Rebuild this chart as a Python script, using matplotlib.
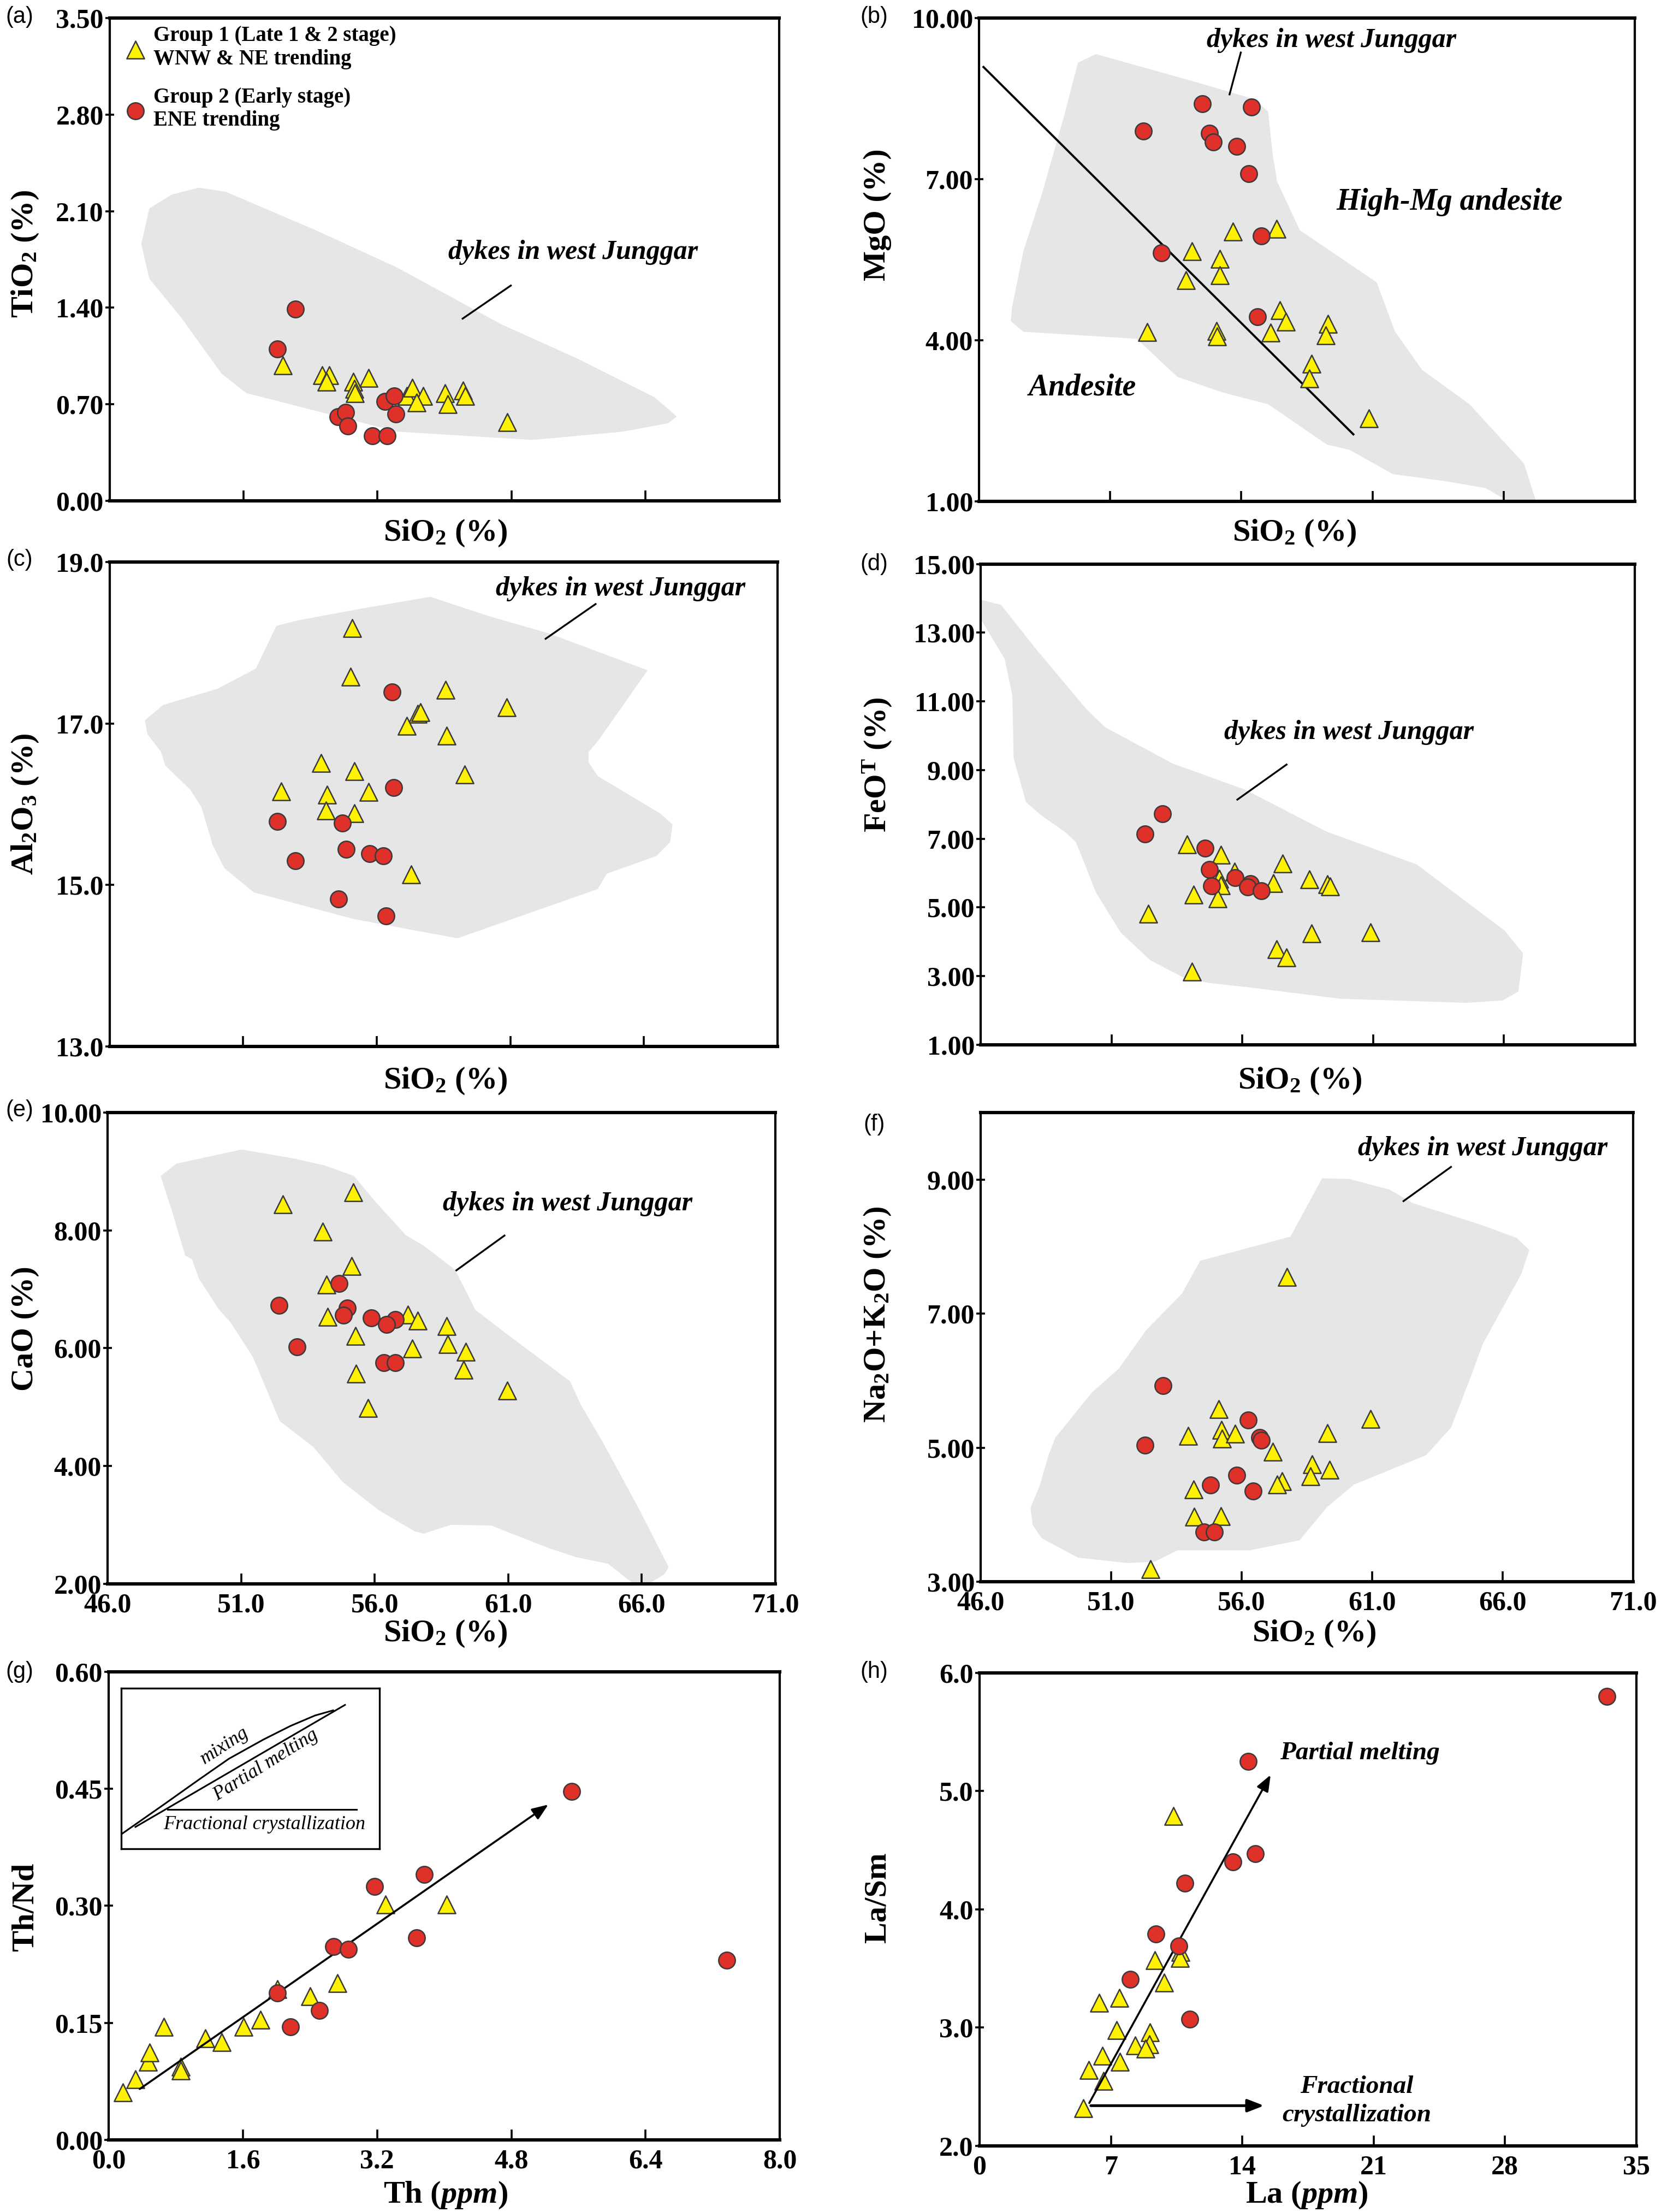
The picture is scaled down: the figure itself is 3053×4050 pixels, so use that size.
import matplotlib
matplotlib.use('Agg')
import matplotlib.pyplot as plt
from matplotlib.patches import Polygon

# === Fonts ===
plt.rcParams['font.family'] = 'Liberation Serif'
plt.rcParams['font.weight'] = 'bold'
plt.rcParams['mathtext.fontset'] = 'custom'
plt.rcParams['mathtext.rm'] = 'Liberation Serif:bold'
plt.rcParams['mathtext.it'] = 'Liberation Serif:bold:italic'
plt.rcParams['mathtext.bf'] = 'Liberation Serif:bold'

# === Data ===
# (a) TiO2 vs SiO2
a_g1_sio2 = [52.46, 53.93, 54.20, 54.10, 55.09, 55.13, 55.16, 55.66, 57.09, 57.29, 57.70, 57.46, 58.53, 58.63, 59.20, 59.27, 60.85]
a_g1_tio2 = [0.98, 0.91, 0.91, 0.86, 0.86, 0.81, 0.78, 0.89, 0.76, 0.82, 0.76, 0.71, 0.78, 0.70, 0.80, 0.76, 0.57]
a_g2_sio2 = [52.94, 52.26, 54.52, 54.82, 54.89, 55.80, 56.37, 56.27, 56.62, 56.69]
a_g2_tio2 = [1.39, 1.10, 0.61, 0.64, 0.54, 0.47, 0.47, 0.72, 0.76, 0.63]
a_field = [(49.33, 2.27), (48.32, 2.22), (47.48, 2.12), (47.18, 1.86), (47.48, 1.61), (48.66, 1.33),
           (50.18, 0.92), (51.10, 0.78), (56.74, 0.50), (61.79, 0.44), (65.16, 0.50), (66.84, 0.56),
           (67.18, 0.61), (66.34, 0.75), (63.47, 1.03), (60.61, 1.28), (56.74, 1.69), (53.71, 1.96),
           (50.34, 2.24)]

# (b) MgO vs SiO2
b_g1_sio2 = [55.67, 57.35, 54.12, 55.17, 55.17, 53.89, 57.47, 57.69, 59.30, 52.42, 55.05, 55.08, 57.12, 59.21, 58.68, 58.59, 60.87]
b_g1_mgo = [6.03, 6.08, 5.66, 5.52, 5.21, 5.12, 4.56, 4.35, 4.31, 4.15, 4.17, 4.07, 4.14, 4.09, 3.56, 3.29, 2.55]
b_g2_sio2 = [54.51, 56.38, 52.27, 54.79, 54.93, 55.83, 56.29, 56.76, 52.96, 56.62]
b_g2_mgo = [8.41, 8.34, 7.90, 7.86, 7.69, 7.61, 7.10, 5.94, 5.63, 4.44]
b_field = [(50.46, 9.33), (49.77, 9.17), (49.25, 8.19), (48.38, 6.70), (47.69, 5.66), (47.26, 4.62),
           (47.21, 4.36), (47.69, 4.16), (52.01, 4.03), (53.56, 3.32), (55.29, 3.03), (57.02, 2.81),
           (59.26, 2.06), (60.13, 1.96), (61.77, 1.51), (63.75, 1.38), (65.31, 1.25), (66.52, 0.90),
           (67.30, 0.90), (66.78, 1.70), (64.70, 2.81), (62.89, 3.45), (61.85, 4.17), (61.16, 5.08),
           (58.23, 6.05), (57.36, 6.96), (57.19, 7.48), (57.02, 8.26), (56.50, 8.49), (54.26, 8.81)]
b_divide_sio2 = [46.17, 60.27]
b_divide_mgo = [9.09, 2.25]

# (c) Al2O3 vs SiO2
c_g1_sio2 = [55.08, 55.02, 58.58, 60.86, 57.53, 57.64, 57.12, 58.61, 53.92, 55.15, 59.29, 52.42, 54.14, 55.69, 54.10, 55.17, 57.29]
c_g1_al2o3 = [18.18, 17.58, 17.42, 17.20, 17.12, 17.14, 16.97, 16.85, 16.51, 16.41, 16.37, 16.16, 16.12, 16.15, 15.92, 15.89, 15.13]
c_g2_sio2 = [56.58, 56.64, 52.27, 54.71, 54.86, 52.95, 55.73, 56.24, 54.56, 56.34]
c_g2_al2o3 = [17.39, 16.21, 15.79, 15.77, 15.44, 15.30, 15.39, 15.36, 14.83, 14.62]
c_field = [(52.24, 18.21), (51.47, 17.68), (50.03, 17.43), (48.00, 17.23), (47.32, 17.04), (47.41, 16.87),
           (47.92, 16.65), (48.08, 16.48), (49.02, 16.18), (49.44, 15.96), (49.86, 15.49), (50.29, 15.21),
           (51.39, 14.91), (55.12, 14.58), (59.02, 14.34), (64.27, 14.95), (64.61, 15.14), (66.47, 15.36),
           (66.98, 15.53), (67.07, 15.75), (66.64, 15.88), (64.27, 16.35), (63.93, 16.52), (63.93, 16.65),
           (64.27, 16.78), (66.14, 17.66), (62.41, 18.12), (60.20, 18.33), (58.00, 18.57), (55.37, 18.42),
           (53.08, 18.28)]

# (d) FeOT vs SiO2
d_g1_sio2 = [53.89, 55.19, 57.54, 55.71, 55.12, 55.17, 57.19, 58.57, 59.25, 59.35, 54.13, 55.05, 52.41, 58.64, 60.89, 57.31, 57.69, 54.08]
d_g1_feo = [6.83, 6.53, 6.28, 6.04, 5.84, 5.64, 5.71, 5.82, 5.67, 5.61, 5.37, 5.26, 4.81, 4.24, 4.27, 3.78, 3.54, 3.13]
d_g2_sio2 = [52.94, 52.27, 54.57, 54.74, 54.83, 55.72, 56.31, 56.21, 56.73]
d_g2_feo = [7.72, 7.14, 6.73, 6.10, 5.62, 5.86, 5.69, 5.59, 5.49]
d_field = [(46.00, 13.96), (46.78, 13.81), (48.16, 12.48), (50.06, 10.76), (50.75, 10.25), (53.34, 9.19),
           (56.10, 8.43), (59.21, 7.21), (62.67, 6.25), (66.03, 4.32), (66.73, 3.66), (66.55, 2.55),
           (65.95, 2.29), (64.57, 2.22), (59.73, 2.34), (56.28, 2.67), (54.72, 2.80), (53.77, 2.95),
           (52.48, 3.46), (51.35, 4.27), (50.40, 5.44), (49.80, 6.60), (49.63, 6.91), (49.20, 7.21),
           (48.33, 7.67), (47.73, 8.07), (47.26, 9.34), (47.21, 11.17), (46.92, 12.23), (46.00, 13.40)]

# (e) CaO vs SiO2
e_g1_sio2 = [55.21, 52.57, 54.05, 55.14, 54.20, 57.25, 57.62, 54.23, 58.69, 55.29, 58.74, 57.40, 59.42, 59.32, 55.31, 60.97, 55.76]
e_g1_cao = [8.64, 8.44, 7.98, 7.39, 7.08, 6.57, 6.47, 6.53, 6.37, 6.21, 6.07, 5.99, 5.94, 5.63, 5.57, 5.28, 4.98]
e_g2_sio2 = [54.67, 52.43, 54.97, 54.84, 55.87, 56.77, 56.45, 53.09, 56.34, 56.77]
e_g2_cao = [7.10, 6.73, 6.68, 6.56, 6.51, 6.48, 6.40, 6.02, 5.75, 5.75]
e_field = [(47.99, 8.92), (48.58, 9.13), (51.02, 9.37), (52.95, 9.22), (54.13, 9.10), (55.23, 8.92),
           (55.98, 8.51), (57.16, 7.92), (57.83, 7.74), (59.01, 7.33), (59.77, 6.65), (61.03, 6.21),
           (63.31, 5.44), (63.73, 5.03), (64.57, 4.38), (65.92, 3.25), (67.01, 2.28), (66.84, 2.16),
           (66.08, 1.95), (65.83, 1.95), (64.74, 2.34), (63.56, 2.45), (62.55, 2.60), (61.20, 2.84),
           (60.36, 2.99), (58.85, 3.00), (57.84, 2.85), (57.50, 2.89), (56.15, 3.25), (54.80, 3.73),
           (53.71, 4.32), (52.45, 4.76), (51.44, 5.85), (50.60, 6.44), (50.18, 6.65), (49.42, 7.18),
           (49.16, 7.51), (48.91, 7.57), (48.41, 8.33)]

# (f) Na2O+K2O vs SiO2
f_g1_sio2 = [57.73, 55.13, 60.94, 53.94, 55.22, 55.24, 55.74, 59.29, 57.20, 58.70, 59.36, 58.63, 57.54, 57.35, 54.15, 54.18, 55.20, 52.50]
f_g1_alk = [7.55, 5.58, 5.43, 5.18, 5.27, 5.14, 5.21, 5.22, 4.94, 4.75, 4.67, 4.57, 4.50, 4.45, 4.38, 3.97, 3.98, 3.19]
f_g2_sio2 = [52.98, 52.29, 56.26, 56.68, 56.76, 55.81, 54.80, 56.43, 54.56, 54.96]
f_g2_alk = [5.93, 5.04, 5.41, 5.15, 5.11, 4.59, 4.44, 4.35, 3.74, 3.74]
f_field = [(59.08, 9.02), (60.12, 9.01), (61.68, 8.85), (62.55, 8.65), (63.85, 8.49), (65.15, 8.33),
           (66.54, 8.13), (67.02, 7.95), (66.71, 7.59), (65.24, 6.55), (64.80, 6.08), (64.02, 5.30),
           (63.07, 4.89), (60.30, 4.45), (59.26, 4.11), (58.22, 3.62), (56.31, 3.47), (53.54, 3.47),
           (52.67, 3.30), (51.63, 3.28), (49.73, 3.36), (48.34, 3.65), (47.99, 3.85), (47.91, 4.11),
           (48.25, 4.42), (48.60, 4.89), (48.86, 5.15), (50.25, 5.82), (51.29, 6.18), (52.33, 6.75),
           (53.71, 7.30), (54.41, 7.79), (57.87, 8.15), (58.05, 8.28)]

# (g) Th/Nd vs Th
g_g1_th = [0.17, 0.32, 0.47, 0.49, 0.66, 0.86, 0.86, 1.15, 1.35, 1.61, 1.81, 2.01, 2.40, 2.73, 3.30, 4.03]
g_g1_thnd = [0.061, 0.078, 0.100, 0.112, 0.145, 0.094, 0.089, 0.130, 0.125, 0.145, 0.154, 0.193, 0.184, 0.201, 0.302, 0.302]
g_g2_th = [5.52, 7.37, 3.17, 3.76, 3.67, 2.68, 2.86, 2.01, 2.17, 2.51]
g_g2_thnd = [0.447, 0.230, 0.325, 0.340, 0.259, 0.248, 0.244, 0.188, 0.145, 0.166]

# (h) La/Sm vs La
h_g1_la = [10.34, 10.72, 10.67, 9.33, 9.83, 6.38, 7.44, 7.30, 9.09, 8.30, 9.06, 8.86, 6.55, 7.47, 5.83, 6.61, 5.52]
h_g1_lasm = [4.79, 3.64, 3.59, 3.57, 3.38, 3.21, 3.25, 2.98, 2.96, 2.85, 2.86, 2.82, 2.76, 2.71, 2.64, 2.55, 2.32]
h_g2_la = [33.43, 14.32, 14.69, 13.49, 10.94, 9.41, 10.61, 8.02, 11.20]
h_g2_lasm = [5.80, 5.25, 4.47, 4.40, 4.22, 3.79, 3.69, 3.41, 3.07]

# === Styles ===
FIELD = '#e6e6e6'
YEL = '#fff200'
RED = '#e0302a'
EDGE = '#3a3a3a'
TICK_FS = 18
LABEL_FS = 21
NOTE_FS = 18


def style_axes(ax, xlim, ylim, xticks, yticks, yfmt, xfmt=None):
    ax.set_xlim(*xlim)
    ax.set_ylim(*ylim)
    ax.set_xticks(xticks)
    ax.set_yticks(yticks)
    ax.set_yticklabels([yfmt.format(v) for v in yticks], fontsize=TICK_FS, fontweight='bold')
    if xfmt is None:
        ax.set_xticklabels([])
    else:
        ax.set_xticklabels([xfmt.format(v) for v in xticks], fontsize=TICK_FS, fontweight='bold')
    ax.tick_params(axis='x', direction='in', length=7, width=1.3, pad=6)
    ax.tick_params(axis='y', direction='inout', length=6, width=1.3, pad=1)
    for side in ['left', 'right']:
        ax.spines[side].set_linewidth(1.5)
    for side in ['top', 'bottom']:
        ax.spines[side].set_linewidth(2.2)


def plot_groups(ax, g1x, g1y, g2x, g2y):
    tri = ax.scatter(g1x, g1y, marker='^', s=135, c=YEL, edgecolors=EDGE, linewidths=0.9, zorder=3)
    cir = ax.scatter(g2x, g2y, marker='o', s=120, c=RED, edgecolors=EDGE, linewidths=0.9, zorder=4)
    return tri, cir


def add_field(ax, field):
    ax.add_patch(Polygon(field, closed=True, fc=FIELD, ec='none', zorder=0))


def dyke_note(ax, xy, p0, p1):
    ax.text(xy[0], xy[1], 'dykes in west Junggar', ha='center', va='center',
            fontsize=NOTE_FS, style='italic', fontweight='bold')
    ax.plot([p0[0], p1[0]], [p0[1], p1[1]], color='k', lw=1.2, zorder=2)


fig = plt.figure(figsize=(15.265, 20.25), dpi=200)

ax_a = fig.add_axes([0.0658, 0.7737, 0.4016, 0.2181])
ax_b = fig.add_axes([0.5873, 0.7733, 0.3934, 0.2185])
ax_c = fig.add_axes([0.0658, 0.5269, 0.4006, 0.2190])
ax_d = fig.add_axes([0.5883, 0.5277, 0.3924, 0.2173])
ax_e = fig.add_axes([0.0645, 0.2840, 0.4006, 0.2131])
ax_f = fig.add_axes([0.5883, 0.2849, 0.3914, 0.2121])
ax_g = fig.add_axes([0.0652, 0.0326, 0.4026, 0.2116])
ax_h = fig.add_axes([0.5876, 0.0299, 0.3940, 0.2138])

sio2_ticks = [51, 56, 61, 66]
sio2_full = [46, 51, 56, 61, 66, 71]

# === (a) ===
add_field(ax_a, a_field)
tri, cir = plot_groups(ax_a, a_g1_sio2, a_g1_tio2, a_g2_sio2, a_g2_tio2)
dyke_note(ax_a, (63.3, 1.80), (60.98, 1.56), (59.18, 1.32))
style_axes(ax_a, (46, 71), (0, 3.5), sio2_ticks, [0, 0.7, 1.4, 2.1, 2.8, 3.5], '{:.2f}')
ax_a.legend([tri, cir], ['Group 1 (Late 1 & 2 stage)\nWNW & NE trending',
                         'Group 2 (Early stage)\nENE trending'],
            loc='upper left', bbox_to_anchor=(0.0, 1.015), frameon=False,
            prop={'family': 'Liberation Serif', 'weight': 'bold', 'size': 14},
            handlelength=1.0, handletextpad=0.35, labelspacing=0.85, borderaxespad=0.3)

# === (b) ===
add_field(ax_b, b_field)
ax_b.plot(b_divide_sio2, b_divide_mgo, color='k', lw=1.4, zorder=2)
plot_groups(ax_b, b_g1_sio2, b_g1_mgo, b_g2_sio2, b_g2_mgo)
dyke_note(ax_b, (59.44, 9.59), (55.98, 9.36), (55.55, 8.58))
ax_b.text(63.93, 6.57, 'High-Mg andesite', ha='center', va='center', fontsize=20,
          style='italic', fontweight='bold')
ax_b.text(49.94, 3.12, 'Andesite', ha='center', va='center', fontsize=20,
          style='italic', fontweight='bold')
style_axes(ax_b, (46, 71), (1, 10), sio2_ticks, [1, 4, 7, 10], '{:.2f}')

# === (c) ===
add_field(ax_c, c_field)
plot_groups(ax_c, c_g1_sio2, c_g1_al2o3, c_g2_sio2, c_g2_al2o3)
dyke_note(ax_c, (65.12, 18.67), (64.19, 18.48), (62.32, 18.05))
style_axes(ax_c, (46, 71), (13, 19), sio2_ticks, [13, 15, 17, 19], '{:.1f}')

# === (d) ===
add_field(ax_d, d_field)
plot_groups(ax_d, d_g1_sio2, d_g1_feo, d_g2_sio2, d_g2_feo)
dyke_note(ax_d, (60.08, 10.10), (57.69, 9.16), (55.81, 8.14))
style_axes(ax_d, (46, 71), (1, 15), sio2_ticks, [1, 3, 5, 7, 9, 11, 13, 15], '{:.2f}')

# === (e) ===
add_field(ax_e, e_field)
plot_groups(ax_e, e_g1_sio2, e_g1_cao, e_g2_sio2, e_g2_cao)
dyke_note(ax_e, (63.22, 8.45), (60.86, 7.91), (59.06, 7.32))
style_axes(ax_e, (46, 71), (2, 10), sio2_full, [2, 4, 6, 8, 10], '{:.2f}', '{:.1f}')

# === (f) ===
add_field(ax_f, f_field)
plot_groups(ax_f, f_g1_sio2, f_g1_alk, f_g2_sio2, f_g2_alk)
dyke_note(ax_f, (65.24, 9.46), (64.02, 9.19), (62.20, 8.68))
style_axes(ax_f, (46, 71), (3, 10), sio2_full, [3, 5, 7, 9], '{:.2f}', '{:.1f}')

# === (g) ===
plot_groups(ax_g, g_g1_th, g_g1_thnd, g_g2_th, g_g2_thnd)
ax_g.annotate('', xy=(5.27, 0.432), xytext=(0.34, 0.063),
              arrowprops=dict(arrowstyle='-|>,head_length=0.9,head_width=0.35', color='k', lw=1.3))
style_axes(ax_g, (0, 8), (0, 0.6), [0, 1.6, 3.2, 4.8, 6.4, 8.0], [0, 0.15, 0.30, 0.45, 0.60],
           '{:.2f}', '{:.1f}')

# inset sketch of trends
ins = ax_g.inset_axes([0.0187, 0.622, 0.385, 0.343])
ins.set_xlim(0, 1)
ins.set_ylim(0, 1)
ins.set_xticks([])
ins.set_yticks([])
for sp in ins.spines.values():
    sp.set_linewidth(1.2)
mix_u = [0.0, 0.08, 0.167, 0.30, 0.417, 0.55, 0.655, 0.75, 0.82]
mix_v = [0.09, 0.18, 0.278, 0.43, 0.561, 0.68, 0.765, 0.83, 0.862]
ins.plot(mix_u, mix_v, color='k', lw=1.1)
ins.plot([0.055, 0.866], [0.136, 0.896], color='k', lw=1.1)
ins.plot([0.18, 0.91], [0.244, 0.244], color='k', lw=1.1)
ins.text(0.554, 0.15, 'Fractional crystallization', ha='center', va='center', fontsize=13,
         style='italic', fontweight='normal')
ins.text(0.40, 0.64, 'mixing', ha='center', va='center', fontsize=13, rotation=33,
         style='italic', fontweight='normal')
ins.text(0.56, 0.52, 'Partial melting', ha='center', va='center', fontsize=13, rotation=32,
         style='italic', fontweight='normal')

# === (h) ===
plot_groups(ax_h, h_g1_la, h_g1_lasm, h_g2_la, h_g2_lasm)
ax_h.annotate('', xy=(15.59, 5.16), xytext=(5.77, 2.34),
              arrowprops=dict(arrowstyle='-|>,head_length=0.9,head_width=0.35', color='k', lw=1.3))
ax_h.annotate('', xy=(15.32, 2.34), xytext=(5.77, 2.34),
              arrowprops=dict(arrowstyle='-|>,head_length=0.9,head_width=0.35', color='k', lw=1.8))
ax_h.text(16.0, 5.32, 'Partial melting', ha='left', va='center', fontsize=17,
          style='italic', fontweight='bold')
ax_h.text(20.1, 2.50, 'Fractional', ha='center', va='center', fontsize=17,
          style='italic', fontweight='bold')
ax_h.text(20.1, 2.26, 'crystallization', ha='center', va='center', fontsize=17,
          style='italic', fontweight='bold')
style_axes(ax_h, (0, 35), (2, 6), [0, 7, 14, 21, 28, 35], [2, 3, 4, 5, 6], '{:.1f}', '{:d}')

# === Axis titles and panel letters ===
xlabels = [
    (0.2673, 0.7590, 'SiO$_2$ (%)'), (0.7766, 0.7590, 'SiO$_2$ (%)'),
    (0.2673, 0.5114, 'SiO$_2$ (%)'), (0.7799, 0.5114, 'SiO$_2$ (%)'),
    (0.2673, 0.2615, 'SiO$_2$ (%)'), (0.7884, 0.2615, 'SiO$_2$ (%)'),
    (0.2673, 0.0077, 'Th ($\\mathit{ppm}$)'), (0.7841, 0.0077, 'La ($\\mathit{ppm}$)'),
]
for x, y, s in xlabels:
    fig.text(x, y, s, ha='center', va='center', fontsize=LABEL_FS, fontweight='bold')

ylabels = [
    (0.0151, 0.8852, 'TiO$_2$ (%)'), (0.5264, 0.9030, 'MgO (%)'),
    (0.0151, 0.6365, 'Al$_2$O$_3$ (%)'), (0.5264, 0.6543, 'FeO$^\\mathrm{T}$ (%)'),
    (0.0151, 0.3993, 'CaO (%)'), (0.5264, 0.4057, 'Na$_2$O+K$_2$O (%)'),
    (0.0151, 0.1378, 'Th/Nd'), (0.5264, 0.1422, 'La/Sm'),
]
for x, y, s in ylabels:
    fig.text(x, y, s, ha='center', va='center', rotation=90, fontsize=LABEL_FS, fontweight='bold')

letters = [
    (0.0118, 0.9923, '(a)'), (0.5244, 0.9923, '(b)'),
    (0.0118, 0.7469, '(c)'), (0.5244, 0.7449, '(d)'),
    (0.0118, 0.4980, '(e)'), (0.5244, 0.4916, '(f)'),
    (0.0118, 0.2442, '(g)'), (0.5244, 0.2442, '(h)'),
]
for x, y, s in letters:
    fig.text(x, y, s, ha='center', va='center', fontsize=15, fontweight='normal',
             family='Liberation Sans')

fig.savefig('out.png', dpi=200, facecolor='white')
